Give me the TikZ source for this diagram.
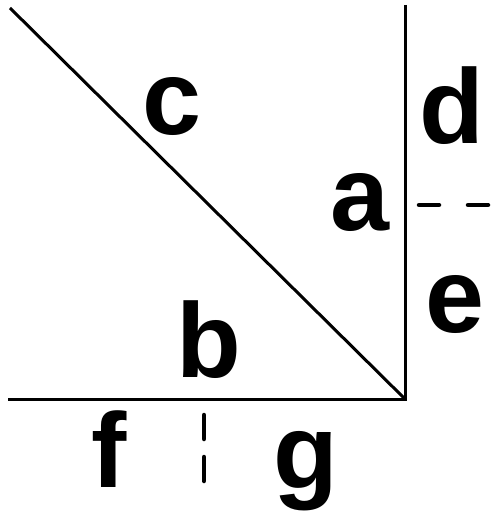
\documentclass[tikz,border=0pt]{standalone}
\usepackage{fontspec}
\setmainfont{Liberation Sans}
\begin{document}
\begin{tikzpicture}[x=1pt,y=-1pt,
  lbl/.style={anchor=base,inner sep=0pt,font=\fontsize{106}{106}\selectfont\bfseries},
  solidline/.style={line width=3pt},
  dashline/.style={line width=4.5pt,line cap=round}]
\useasboundingbox (0,0) rectangle (496,513);
\coordinate (top) at (405,5);
\coordinate (corner) at (405,399);
\coordinate (left) at (8,399);
\coordinate (tl) at (10,8);
\coordinate (hd1) at (419,205);
\coordinate (hd2) at (491,205);
\coordinate (vd1) at (204,415);
\coordinate (vd2) at (204,485);
\draw[solidline] (top) -- (corner) -- (left);
\draw[solidline] (tl) -- (corner);
\draw[dashline,dash pattern=on 20pt off 29pt] (hd1) -- (hd2);
\draw[dashline,dash pattern=on 24pt off 18pt] (vd1) -- (vd2);
\node[lbl] (c) at (172,135) {c};
\node[lbl] (d) at (452,143) {d};
\node[lbl] (a) at (360,230) {a};
\node[lbl] (e) at (455,332) {e};
\node[lbl] (b) at (209,377) {b};
\node[lbl] (f) at (109,487) {f};
\node[lbl] (g) at (306,488) {g};
\end{tikzpicture}
\end{document}
